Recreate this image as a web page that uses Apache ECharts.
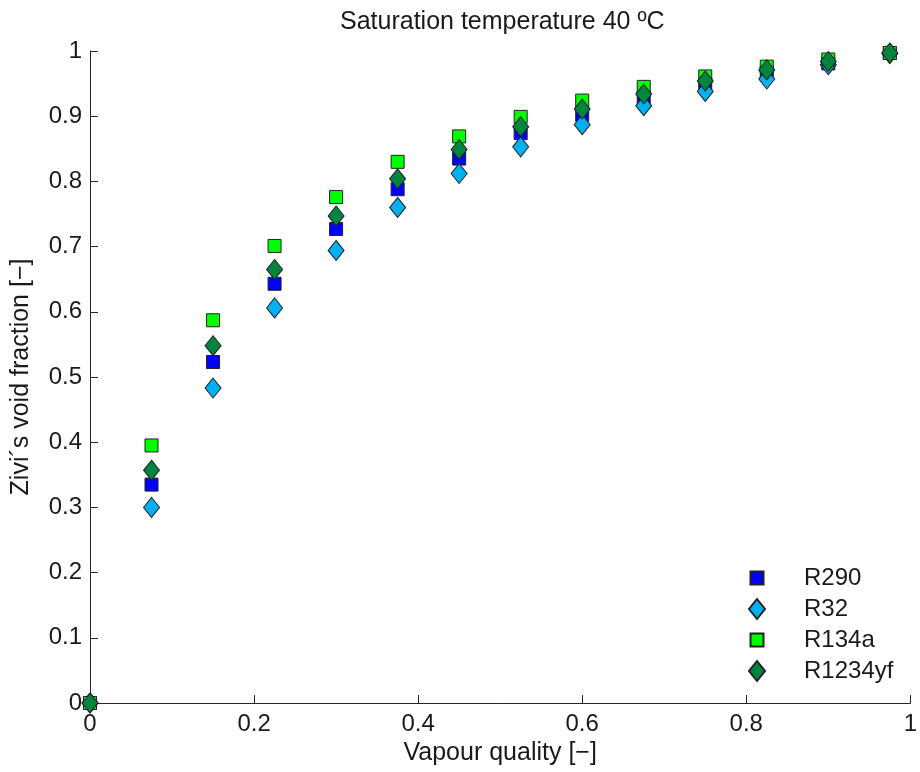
<!DOCTYPE html>
<html>
<head>
<meta charset="utf-8">
<script src="https://cdn.jsdelivr.net/npm/echarts@6/dist/echarts.min.js"></script>
<style>
	html, body { margin: 0; padding: 0; background: #fff; }
	#chart { width: 920px; height: 772px; }
</style>
</head>
<body>
<div id="chart"></div>
<script>
	// vapour quality
	var quality = [0, 0.075, 0.15, 0.225, 0.3, 0.375, 0.45, 0.525, 0.6, 0.675, 0.75, 0.825, 0.9, 0.975]
	// Zivi void fraction per refrigerant
	var r290 = [0, 0.335, 0.523, 0.643, 0.727, 0.788, 0.835, 0.874, 0.902, 0.928, 0.949, 0.967, 0.981, 0.997]
	var r32 = [0, 0.300, 0.483, 0.606, 0.694, 0.760, 0.812, 0.853, 0.887, 0.916, 0.938, 0.957, 0.979, 0.996]
	var r134a = [0, 0.395, 0.587, 0.701, 0.776, 0.830, 0.869, 0.899, 0.924, 0.945, 0.961, 0.976, 0.987, 0.997]
	var r1234yf = [0, 0.357, 0.548, 0.665, 0.747, 0.804, 0.849, 0.884, 0.911, 0.934, 0.954, 0.971, 0.984, 0.997]

	var names = ['R290', 'R32', 'R134a', 'R1234yf']
	var values = [r290, r32, r134a, r1234yf]
	var colors = ['#0000ff', '#00b0f0', '#00ff00', '#00843e']
	var symbols = ['rect', 'diamond', 'rect', 'diamond']

	var fontName = 'Liberation Sans'
	var textColor = '#1a1a1a'

	function pairs(ys) {
		var out = []
		for (var i = 0; i < quality.length; i++) {
			out.push([quality[i], ys[i]])
		}
		return out
	}

	var series = []
	var legends = []
	var legendY = [578, 609, 640, 671] // centre of each legend row
	for (var k = 0; k < names.length; k++) {
		var isRect = symbols[k] === 'rect'
		series.push({
			name: names[k],
			type: 'scatter',
			data: pairs(values[k]),
			symbol: symbols[k],
			symbolSize: isRect ? 13 : [16, 20],
			clip: false,
			itemStyle: {
				color: colors[k],
				borderColor: '#222',
				borderWidth: 1,
				opacity: 1
			},
			emphasis: { disabled: true }
		})
		var w = isRect ? 13 : 16
		var h = isRect ? 13 : 20
		legends.push({
			data: [names[k]],
			left: 756 - w / 2,
			top: legendY[k] - 13,
			padding: 0,
			itemWidth: w,
			itemHeight: h,
			selectedMode: false,
			textStyle: {
				fontFamily: fontName,
				fontSize: 24,
				color: textColor,
				lineHeight: 26,
				padding: [0, 0, 0, 803 - (756 - w / 2) - w - 5]
			}
		})
	}

	var chart = echarts.init(document.getElementById('chart'))
	chart.setOption({
		animation: false,
		backgroundColor: '#fff',
		title: {
			text: 'Saturation temperature 40 ºC',
			left: 340,
			top: 10,
			padding: 0,
			textStyle: {
				fontFamily: fontName,
				fontSize: 25,
				fontWeight: 'normal',
				color: textColor
			}
		},
		legend: legends,
		grid: {
			left: 90,
			right: 5,
			top: 51,
			bottom: 69,
			containLabel: false
		},
		xAxis: {
			type: 'value',
			min: 0,
			max: 1,
			interval: 0.2,
			name: 'Vapour quality [−]',
			nameLocation: 'middle',
			nameGap: 37,
			nameTextStyle: { fontFamily: fontName, fontSize: 25, color: textColor },
			axisLine: { show: true, onZero: false, lineStyle: { color: '#262626', width: 1 } },
			axisTick: { show: true, inside: true, length: 8, lineStyle: { color: '#262626' } },
			axisLabel: {
				fontFamily: fontName,
				fontSize: 24,
				color: textColor,
				margin: 9,
				showMinLabel: true,
				showMaxLabel: true
			},
			splitLine: { show: false }
		},
		yAxis: {
			type: 'value',
			min: 0,
			max: 1,
			interval: 0.1,
			name: 'Zivi´s void fraction [−]',
			nameLocation: 'middle',
			nameGap: 56,
			nameTextStyle: { fontFamily: fontName, fontSize: 25, color: textColor },
			axisLine: { show: true, onZero: false, lineStyle: { color: '#262626', width: 1 } },
			axisTick: { show: true, inside: true, length: 8, lineStyle: { color: '#262626' } },
			axisLabel: {
				fontFamily: fontName,
				fontSize: 24,
				color: textColor,
				margin: 8,
				showMinLabel: true,
				showMaxLabel: true
			},
			splitLine: { show: false }
		},
		series: series
	})
</script>
</body>
</html>
